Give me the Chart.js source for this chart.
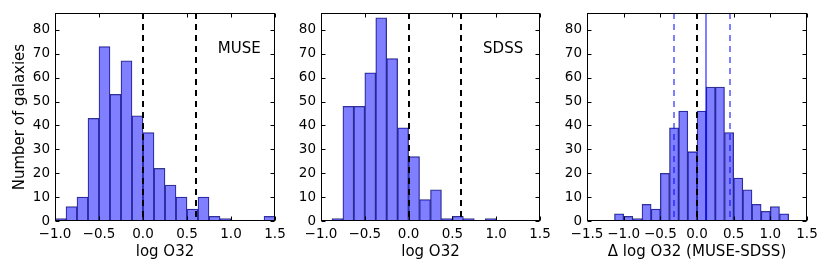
<!DOCTYPE html>
<html>
<head>
<meta charset="utf-8">
<script src="https://cdn.jsdelivr.net/npm/chart.js@4.4.0/dist/chart.umd.min.js"></script>
<style>
  html, body { margin: 0; padding: 0; background: #fff; }
  #wrap { position: relative; width: 830px; height: 277px; }
  canvas { position: absolute; left: 0; top: 0; }
</style>
</head>
<body>
<div id="wrap">
  <canvas id="muse" width="830" height="277"></canvas>
  <canvas id="sdss" width="830" height="277"></canvas>
  <canvas id="delta" width="830" height="277"></canvas>
</div>
<script>
// bin left edges (width 0.125) and counts
const binWidth = 0.125;
const logBins = [-1.0, -0.875, -0.75, -0.625, -0.5, -0.375, -0.25, -0.125, 0.0, 0.125,
  0.25, 0.375, 0.5, 0.625, 0.75, 0.875, 1.0, 1.125, 1.25, 1.375];
const museCounts = [1, 6, 10, 43, 73, 53, 67, 44, 37, 22, 15, 10, 5, 10, 2, 1, 0, 0, 0, 2];
const sdssCounts = [0, 1, 48, 48, 62, 85, 68, 39, 27, 9, 13, 1, 2, 1, 0, 1, 0, 0, 0, 0];
const deltaBins = [-1.125, -1.0, -0.875, -0.75, -0.625, -0.5, -0.375, -0.25, -0.125, 0.0,
  0.125, 0.25, 0.375, 0.5, 0.625, 0.75, 0.875, 1.0, 1.125];
const deltaCounts = [3, 2, 1, 7, 5, 20, 39, 46, 29, 46, 56, 56, 37, 18, 13, 7, 4, 6, 3];

const logTicks = [-1.0, -0.5, 0.0, 0.5, 1.0, 1.5];
const deltaTicks = [-1.5, -1.0, -0.5, 0.0, 0.5, 1.0, 1.5];
const yTicks = [0, 10, 20, 30, 40, 50, 60, 70, 80];

const cutLines = [0.0, 0.6];
const deltaMedian = 0.12;
const deltaSpread = [-0.31, 0.45];

const FONT = 'DejaVu Sans';

function fmt(v) {
  return (v < 0 ? '\u2212' : '') + Math.abs(v).toFixed(1);
}

const framePlugin = {
  id: 'frame',
  afterDatasetsDraw(chart, args, opts) {
    const { ctx, chartArea: a } = chart;
    const x = chart.scales.x, y = chart.scales.y;
    ctx.save();
    ctx.beginPath();
    ctx.rect(a.left, a.top, a.right - a.left, a.bottom - a.top);
    ctx.clip();
    (opts.lines || []).forEach(l => {
      const px = Math.round(x.getPixelForValue(l.value));
      ctx.beginPath();
      ctx.setLineDash(l.dash || []);
      ctx.strokeStyle = l.color;
      ctx.lineWidth = l.width;
      ctx.moveTo(px, a.top);
      ctx.lineTo(px, a.bottom);
      ctx.stroke();
    });
    ctx.restore();

    ctx.save();
    ctx.strokeStyle = '#000';
    ctx.lineWidth = 1;
    const L = Math.round(a.left) + 0.5, R = Math.round(a.right) - 0.5;
    const T = Math.round(a.top) + 0.5, B = Math.round(a.bottom) - 0.5;
    ctx.strokeRect(L, T, R - L, B - T);
    ctx.beginPath();
    x.ticks.forEach(t => {
      const px = Math.round(x.getPixelForValue(t.value)) + 0.5;
      ctx.moveTo(px, B); ctx.lineTo(px, B - 4);
      ctx.moveTo(px, T); ctx.lineTo(px, T + 4);
    });
    y.ticks.forEach(t => {
      const py = Math.round(y.getPixelForValue(t.value)) + 0.5;
      ctx.moveTo(L, py); ctx.lineTo(L + 4, py);
      ctx.moveTo(R, py); ctx.lineTo(R - 4, py);
    });
    ctx.stroke();
    if (opts.label) {
      ctx.fillStyle = '#000';
      ctx.font = '15px ' + FONT;
      ctx.textAlign = 'left';
      ctx.textBaseline = 'middle';
      ctx.fillText(opts.label, a.left + 0.74 * (a.right - a.left), a.top + 36);
    }
    ctx.restore();
  }
};

function makeHist(id, bins, counts, xMin, xMax, xTicks, pad, yWidth, yTitle, xTitle, lines, label) {
  const points = bins.map((b, i) => ({ x: b + binWidth / 2, y: counts[i] }));
  return new Chart(document.getElementById(id), {
    type: 'bar',
    data: {
      datasets: [{
        data: points,
        backgroundColor: 'rgba(0, 0, 255, 0.5)',
        borderColor: 'rgba(30, 30, 90, 0.85)',
        borderWidth: 0.6,
        borderSkipped: false,
        barPercentage: 1,
        categoryPercentage: 1
      }]
    },
    options: {
      responsive: false,
      animation: false,
      events: [],
      layout: { padding: { left: pad[0], right: pad[1], top: 12, bottom: 0 } },
      plugins: {
        legend: { display: false },
        tooltip: { enabled: false },
        frame: { lines: lines, label: label }
      },
      scales: {
        x: {
          type: 'linear',
          min: xMin,
          max: xMax,
          offset: false,
          grid: { display: false, drawTicks: false },
          border: { display: false },
          afterBuildTicks: s => { s.ticks = xTicks.map(v => ({ value: v })); },
          afterFit: s => { s.height = 56; },
          ticks: {
            padding: 5,
            color: '#000',
            font: { family: FONT, size: 13.5 },
            maxRotation: 0,
            callback: v => fmt(v)
          },
          title: {
            display: true,
            text: xTitle,
            color: '#000',
            font: { family: FONT, size: 15 },
            padding: { top: 0, bottom: 16 }
          }
        },
        y: {
          min: 0,
          max: 87,
          grid: { display: false, drawTicks: false },
          border: { display: false },
          afterBuildTicks: s => { s.ticks = yTicks.map(v => ({ value: v })); },
          afterFit: s => { s.width = yWidth; },
          ticks: {
            padding: 5,
            color: '#000',
            font: { family: FONT, size: 13.5 }
          },
          title: {
            display: !!yTitle,
            text: yTitle || '',
            color: '#000',
            font: { family: FONT, size: 15 },
            padding: { top: 11, bottom: 0 }
          }
        }
      }
    },
    plugins: [framePlugin]
  });
}

const blackDash = v => ({ value: v, color: '#000', width: 2, dash: [6, 5] });
const blueDash = v => ({ value: v, color: 'rgba(0, 0, 255, 0.5)', width: 2, dash: [6, 5] });

makeHist('muse', logBins, museCounts, -1.0, 1.5, logTicks, [0, 555], 55,
  'Number of galaxies', 'log O32', cutLines.map(blackDash), 'MUSE');
makeHist('sdss', logBins, sdssCounts, -1.0, 1.5, logTicks, [290, 290], 31,
  null, 'log O32', cutLines.map(blackDash), 'SDSS');
makeHist('delta', deltaBins, deltaCounts, -1.5, 1.5, deltaTicks, [556, 23], 31,
  null, '\u0394 log O32 (MUSE-SDSS)',
  [blackDash(0.0), ...deltaSpread.map(blueDash),
   { value: deltaMedian, color: 'rgba(0, 0, 255, 0.5)', width: 2 }], null);
</script>
</body>
</html>
